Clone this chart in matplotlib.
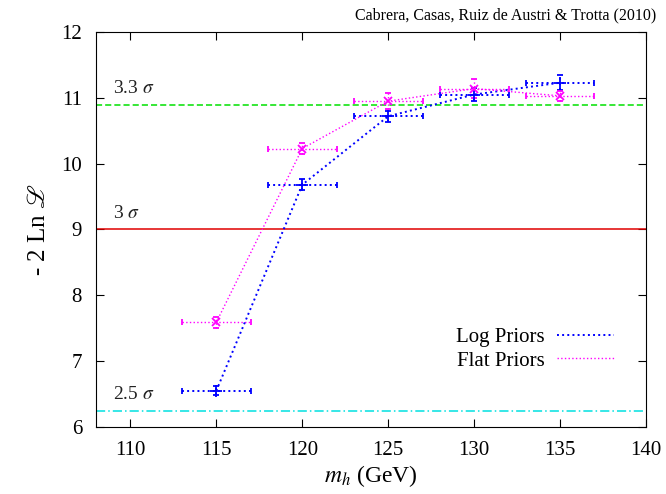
import matplotlib
matplotlib.use("Agg")
import matplotlib.pyplot as plt
from matplotlib.lines import Line2D

plt.rcParams['font.family'] = ['Liberation Serif', 'DejaVu Serif']
plt.rcParams['mathtext.fontset'] = 'stix'

mh = [115, 120, 125, 130, 135]
log_vals = [6.55, 9.68, 10.72, 11.05, 11.23]
flat_vals = [7.59, 10.23, 10.95, 11.14, 11.03]
x_err = [2, 2, 2, 2, 2]
log_yerr = [0.07, 0.08, 0.08, 0.1, 0.11]
flat_yerr = [0.08, 0.08, 0.12, 0.14, 0.08]

sigma_levels = [10.89, 9.0, 6.25]
sigma_labels = [r"3.3 $\sigma$", r"3 $\sigma$", r"2.5 $\sigma$"]
sigma_colors = ['#00e000', '#e00000', '#00e0e0']
sigma_styles = [(0, (4, 2)), '-', (0, (6, 2, 1, 2))]

fig = plt.figure(figsize=(6.66, 4.94), dpi=100)
ax = fig.add_axes([96/666, 1-427/494, (646-96)/666, (427-32)/494])

for lvl, lab, c, ls in zip(sigma_levels, sigma_labels, sigma_colors, sigma_styles):
    ax.axhline(lvl, color=c, ls=ls, lw=1.1)
    ax.text(109.0, lvl + 0.12, lab, fontsize=14, va='bottom', ha='left', color='#222222')

eb1 = ax.errorbar(mh, log_vals, xerr=x_err, yerr=log_yerr, color='#0000ff', ls=':', lw=1.4,
            marker='+', ms=9, mew=1.3, capsize=2, elinewidth=1.4, label='Log Priors')
eb2 = ax.errorbar(mh, flat_vals, xerr=x_err, yerr=flat_yerr, color='#ff00ff', ls=':', lw=1.0,
            marker='x', ms=6, mew=1.3, capsize=2, elinewidth=1.0, label='Flat Priors')
for eb in (eb1, eb2):
    for c in eb[2]:
        c.set_linestyle(':')

ax.set_xlim(108, 140)
ax.set_ylim(6, 12)
ax.set_xticks([110, 115, 120, 125, 130, 135, 140])
ax.set_yticks([6, 7, 8, 9, 10, 11, 12])
ax.tick_params(direction='in', top=True, right=True, labelsize=15, length=6, pad=10)
ax.set_xlabel(r"$m_h$ (GeV)", fontsize=17, labelpad=2)
ax.set_ylabel(r"- 2 Ln $\mathscr{L}$", fontsize=18, labelpad=8)

handles = [Line2D([], [], color='#0000ff', ls=':', lw=1.4),
           Line2D([], [], color='#ff00ff', ls=':', lw=1.0)]
ax.legend(handles, ['Log Priors', 'Flat Priors'], loc='lower right', bbox_to_anchor=(0.975, 0.095),
          frameon=False, markerfirst=False, fontsize=15, handlelength=2.7, labelspacing=0.2,
          handletextpad=0.6)

fig.text(0.985, 0.985, "Cabrera, Casas, Ruiz de Austri & Trotta (2010)", ha='right', va='top',
         fontsize=11.5)

fig.savefig("out.png", dpi=100)
